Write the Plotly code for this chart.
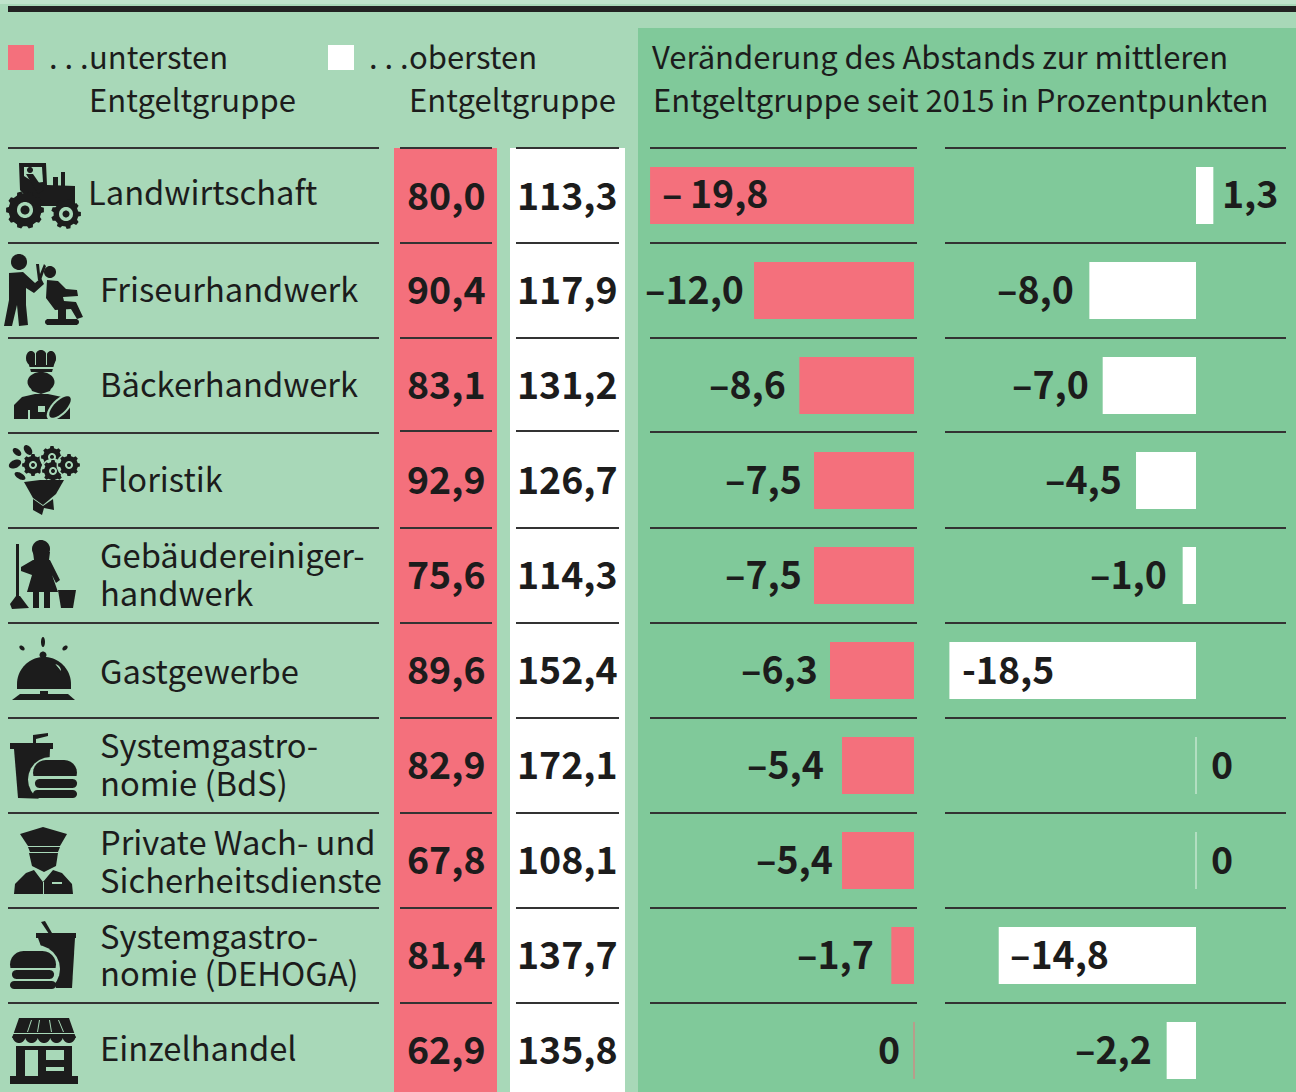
import math
import plotly.graph_objects as go

W, H = 1296, 1092

# ---------- data ----------
industries = ["Landwirtschaft", "Friseurhandwerk", "Bäckerhandwerk", "Floristik",
              "Gebäudereiniger-<br>handwerk", "Gastgewerbe", "Systemgastro-<br>nomie (BdS)",
              "Private Wach- und<br>Sicherheitsdienste", "Systemgastro-<br>nomie (DEHOGA)", "Einzelhandel"]
lowest = [80.0, 90.4, 83.1, 92.9, 75.6, 89.6, 82.9, 67.8, 81.4, 62.9]
highest = [113.3, 117.9, 131.2, 126.7, 114.3, 152.4, 172.1, 108.1, 137.7, 135.8]
change_low = [-19.8, -12.0, -8.6, -7.5, -7.5, -6.3, -5.4, -5.4, -1.7, 0]
change_high = [1.3, -8.0, -7.0, -4.5, -1.0, -18.5, 0, 0, -14.8, -2.2]
change_low_labels = ["–\u200919,8", "–12,0", "–8,6", "–7,5", "–7,5", "–6,3", "–5,4", "–5,4", "–1,7", "0"]
change_high_labels = ["1,3", "–8,0", "–7,0", "–4,5", "–1,0", "-18,5", "0", "0", "–14,8", "–2,2"]

# ---------- style ----------
LIGHT, DARK, PINK, WHITE, INK = "#A8D8B8", "#80C99A", "#F4707C", "#FFFFFF", "#1c1c1c"
FONT = "Noto Sans CJK SC"
SCALE = 13.33          # px per percentage point
ROW_H, TOP = 95, 148
low_gap = [10, -8, -11, -10, -10, -10, -16, -7, -15, -12]
high_gap = [7, -13, -12, -12, -14, 11, 13, 13, 9, -13]
row_cy = [195.5 + ROW_H * i for i in range(10)]
value_cy = [193, 288, 382, 477, 572.5, 667.5, 762.5, 857.5, 952.5, 1047.5]
rule_y = [148, 243, 338, 431, 528, 623, 718, 813, 908, 1003]
label_y = [[190], [288], [382], [477], [553, 591], [669], [743, 781], [840, 878], [934, 972], [1046]]

px = lambda x: x / W
py = lambda y: 1 - y / H

shapes, annos = [], []


def rect(x0, y0, x1, y1, fill, layer="above"):
    shapes.append(dict(type="rect", xref="paper", yref="paper", x0=px(x0), x1=px(x1),
                       y0=py(y0), y1=py(y1), fillcolor=fill, line_width=0, layer=layer))


def rule(x0, x1, y, layer="below", color="#333333", w=2):
    shapes.append(dict(type="line", xref="paper", yref="paper", x0=px(x0), x1=px(x1),
                       y0=py(y), y1=py(y), line=dict(color=color, width=w), layer=layer))


def poly(pts, fill=INK):
    d = "M" + " L".join(f"{px(x):.5f},{py(y):.5f}" for x, y in pts) + " Z"
    shapes.append(dict(type="path", xref="paper", yref="paper", path=d, fillcolor=fill,
                       line_width=0, layer="above"))


def ell(cx, cy, rx, ry=None, fill=INK, a0=0, a1=360, rot=0):
    ry = rx if ry is None else ry
    pts = []
    n = 40
    for i in range(n + 1):
        t = math.radians(a0 + (a1 - a0) * i / n)
        x, y = rx * math.cos(t), ry * math.sin(t)
        r = math.radians(rot)
        pts.append((cx + x * math.cos(r) - y * math.sin(r), cy + x * math.sin(r) + y * math.cos(r)))
    poly(pts, fill)


def gear(cx, cy, r, teeth, fill=INK, depth=3):
    pts = []
    for i in range(teeth):
        for off, rr in ((-0.30, r - depth), (-0.18, r), (0.18, r), (0.30, r - depth)):
            t = 2 * math.pi * (i + off) / teeth
            pts.append((cx + rr * math.cos(t), cy + rr * math.sin(t)))
    poly(pts, fill)


def pill(x0, y0, x1, y1, fill=INK):
    r = (y1 - y0) / 2
    pts = []
    for i in range(13):
        t = math.radians(90 + 180 * i / 12)
        pts.append((x0 + r + r * math.cos(t), y0 + r + r * math.sin(t)))
    for i in range(13):
        t = math.radians(270 + 180 * i / 12)
        pts.append((x1 - r + r * math.cos(t), y0 + r + r * math.sin(t)))
    poly(pts, fill)


def bun(x0, y0, x1, y1):
    pill(x0, y0, x1, y0 + 2 * (y1 - y0) * 0.8)
    rect(x0 - 1, y1, x1 + 1, y0 + 2 * (y1 - y0) * 0.8 + 1, LIGHT)


def text(x, y, s, size=32.7, bold=False, anchor="left", color=INK):
    annos.append(dict(xref="paper", yref="paper", x=px(x), y=py(y), text=s, showarrow=False,
                      xanchor=anchor, yanchor="middle", borderpad=0,
                      font=dict(family=FONT, size=size, color=color, weight=700 if bold else 400)))


# ---------- backgrounds ----------
rect(0, 0, W, 4, "#BFE3CB", "below")
rect(8, 6, W, 12, "#222222", "below")
rect(638, 28, W, H, DARK, "below")
rect(394, 148, 497, H, PINK, "below")
rect(510, 148, 625, H, WHITE, "below")

for i, y in enumerate(rule_y):
    rule(8, 379, y + (2 if i == 3 else 0))
    rule(400, 492, y)
    rule(516, 619, y)
    rule(650, 917, y + (1 if i == 3 else 0))
    rule(945, 1286, y + (1 if i == 3 else 0))

# ---------- legend and headers ----------
rect(8, 45, 34, 70, PINK, "below")
rect(328, 45, 354, 70, WHITE, "below")
text(48, 55, ". . .", 31)
text(88, 55, "untersten", 31)
text(88, 98, "Entgeltgruppe", 31)
text(368, 55, ". . .", 31)
text(408, 55, "obersten", 31)
text(408, 98, "Entgeltgruppe", 31)
text(651, 55, "Veränderung des Abstands zur mittleren", 31)
text(652, 98, "Entgeltgruppe seit 2015 in Prozentpunkten", 31)

# ---------- row labels and table values ----------
for i, name in enumerate(industries):
    x = 87 if i == 0 else 99
    for line, y in zip(name.split("<br>"), label_y[i]):
        text(x, y, line)
    text(446.5, value_cy[i], f"{lowest[i]:.1f}".replace(".", ","), 37.5, True, "center")
    text(567.5, value_cy[i], f"{highest[i]:.1f}".replace(".", ","), 37.5, True, "center")

# ---------- icons ----------
# tractor
poly([(19, 163), (46, 163), (47, 185), (75, 186), (75, 206), (34, 206), (20, 190)])
poly([(24, 167), (42, 167), (43, 182), (35, 183), (24, 176)], LIGHT)
ell(30, 170, 3)
poly([(26, 174), (33, 174), (44, 190), (38, 194)])
rect(61, 172, 65, 186, INK)
rect(53, 177, 58, 186, INK)
gear(25, 210, 19, 10, depth=2.5)
ell(25, 210, 8, fill=LIGHT)
ell(25, 210, 4.5)
gear(66, 214, 15, 9, depth=2.5)
ell(66, 214, 7, fill=LIGHT)
ell(66, 214, 3.5)
# hairdresser
ell(19, 262, 8)
poly([(9, 273), (23, 272), (35, 283), (41, 278), (44, 284), (34, 293), (26, 288), (26, 305),
      (28, 325), (19, 326), (17, 305), (12, 326), (4, 326), (9, 300)])
poly([(36, 264), (39, 264), (40, 274), (44, 264), (46, 266), (41, 280), (38, 280)])
ell(50, 272, 6)
poly([(47, 280), (58, 281), (66, 289), (77, 290), (78, 296), (63, 297), (64, 301), (76, 302),
      (83, 317), (77, 319), (71, 309), (55, 310), (46, 298)])
rect(58, 309, 66, 320, INK)
pill(45, 319, 79, 325)
# baker
ell(31, 358, 5, 7)
ell(41, 357, 6, 7)
ell(51, 358, 5, 7)
poly([(27, 358), (56, 358), (52, 372), (31, 372)])
rect(35, 353, 36, 365, LIGHT)
rect(46, 353, 47, 365, LIGHT)
rect(28, 367, 55, 369, LIGHT)
ell(41, 382, 13.5, 10)
poly([(28, 380), (54, 380), (50, 391), (41, 394), (32, 391)])
poly([(14, 419), (14, 405), (22, 397), (35, 394), (48, 394), (62, 397), (70, 404), (70, 419)])
rect(38, 406, 45, 412, LIGHT)
rect(28, 410, 30, 419, LIGHT)
ell(60, 407, 17, 8, fill=LIGHT, rot=-45)
ell(60, 407, 14, 6, rot=-45)
# flowers
for cx, cy, r in ((33, 465, 11), (52, 457, 11), (53, 471, 11), (69, 465, 11)):
    gear(cx, cy, r + 1.5, 8, LIGHT, 0)
    gear(cx, cy, r, 8, INK, 2)
    ell(cx, cy, 4, fill=LIGHT)
    ell(cx, cy, 2)
ell(15, 464, 6.5, 4, rot=-25)
ell(17, 452, 5, 3, rot=40)
ell(28, 450, 5.5, 3.5, rot=55)
ell(20, 476, 6, 3, rot=30)
poly([(24, 482), (40, 480), (64, 480), (56, 494), (43, 505), (33, 498)])
poly([(33, 499), (43, 506), (53, 499), (54, 510), (44, 508), (42, 515), (33, 510)])
# cleaner
rect(16, 544, 19, 598, INK)
poly([(16, 596), (20, 596), (29, 608), (12, 609), (10, 604)])
ell(41, 549, 9, 9)
poly([(33, 552), (50, 552), (49, 560), (34, 560)])
poly([(33, 560), (50, 560), (60, 580), (56, 583), (52, 575), (58, 592), (27, 592), (32, 575), (21, 571), (21, 567)])
rect(33, 592, 39, 608, INK)
rect(44, 592, 50, 608, INK)
poly([(58, 590), (76, 590), (73, 608), (61, 608)])
# bell
ell(22, 648, 3, 2, rot=40)
ell(43, 642, 2, 5)
ell(65, 648, 3, 2, rot=-40)
ell(43, 655, 3.5)
ell(44, 684, 27, 27, a0=180, a1=360)
rect(17, 684, 71, 689, INK)
ell(54, 671, 7, 7, fill=LIGHT, a0=-80, a1=0)
ell(54, 672, 5.5, 6, a0=-90, a1=10)
rect(40, 691, 48, 696, INK)
poly([(20, 694), (68, 694), (75, 700), (12, 700)])
# burger + cup (BdS)
poly([(33, 735), (48, 733), (48, 736), (36, 739), (36, 743), (33, 743)])
rect(10, 743, 53, 749, INK)
poly([(14, 749), (50, 749), (48, 799), (18, 798)])
pill(28, 757, 81, 802, LIGHT)
bun(33, 760, 77, 776)
pill(35, 779, 77, 788)
pill(33, 790, 77, 798)
# guard
poly([(20, 834), (43, 827), (67, 834), (60, 846), (28, 846)])
poly([(28, 847), (60, 847), (58, 852), (30, 852)])
poly([(29, 853), (58, 853), (56, 866), (44, 872), (32, 866)])
poly([(14, 894), (15, 884), (26, 873), (34, 870), (43, 882), (53, 870), (62, 873), (72, 884), (73, 894)])
rect(52, 882, 62, 884, LIGHT)
rect(43, 882, 44, 894, LIGHT)
# burger + cup (DEHOGA)
poly([(41, 922), (45, 921), (52, 933), (49, 934)])
rect(36, 933, 76, 938, INK)
poly([(38, 938), (75, 938), (72, 988), (56, 988)])
pill(5, 945, 60, 993, LIGHT)
bun(10, 951, 56, 968)
pill(12, 970, 54, 979)
pill(10, 981, 56, 989)
# shop
poly([(19, 1018), (69, 1018), (76, 1038), (12, 1038)])
for k in range(5):
    ell(19 + k * 12.5, 1036, 6.5, 7, a0=0, a1=180)
for a, b in ((31, 27), (39, 37), (49, 51), (58, 63)):
    poly([(a, 1020), (a + 1, 1020), (b + 1, 1032), (b, 1032)], LIGHT)
rect(13, 1033, 75, 1034, LIGHT)
rect(16, 1046, 72, 1077, INK)
rect(10, 1076, 78, 1084, INK)
rect(25, 1050, 38, 1076, LIGHT)
rect(46, 1050, 64, 1060, LIGHT)
rect(46, 1067, 64, 1071, LIGHT)

# ---------- bars ----------
fig = go.Figure()
ydomain = [0, (H - TOP) / H]
yrange = [(H - row_cy[0]) / ROW_H, (TOP - row_cy[0]) / ROW_H]
cats = [str(i) for i in range(10)]


def bars(values, color, zero_line, xaxis):
    fig.add_trace(go.Bar(x=values, y=cats, orientation="h", width=0.6, xaxis=xaxis, yaxis="y",
                         marker=dict(color=color, line=dict(color=zero_line,
                                                            width=[1 if v == 0 else 0 for v in values])),
                         showlegend=False, hoverinfo="skip"))


bars(change_low, PINK, "rgba(244,112,124,0.55)", "x")
bars(change_high, WHITE, "rgba(255,255,255,0.45)", "x2")

for i in range(10):
    for axis, v, lab, gap in (("x", change_low[i], change_low_labels[i], low_gap[i]),
                              ("x2", change_high[i], change_high_labels[i], high_gap[i])):
        annos.append(dict(xref=axis, yref="y", x=v, y=cats[i], text=lab, showarrow=False,
                          xshift=gap, yshift=3.5, xanchor="left" if gap > 0 else "right", yanchor="middle",
                          font=dict(family=FONT, size=37.5, color=INK, weight=700)))

fig.update_layout(
    width=W, height=H, margin=dict(l=0, r=0, t=0, b=0, pad=0),
    paper_bgcolor=LIGHT, plot_bgcolor="rgba(0,0,0,0)", barmode="overlay",
    shapes=shapes, annotations=annos,
    xaxis=dict(domain=[px(640), px(930)], range=[(640 - 914) / SCALE, (930 - 914) / SCALE], visible=False),
    xaxis2=dict(domain=[px(940), 1], range=[(940 - 1196) / SCALE, (W - 1196) / SCALE], visible=False),
    yaxis=dict(domain=ydomain, range=yrange, type="category", categoryorder="array",
               categoryarray=cats, visible=False),
)
fig.write_html("out.html", config=dict(displayModeBar=False),
               post_script="document.body.style.margin='0';document.documentElement.style.overflow='hidden';")
